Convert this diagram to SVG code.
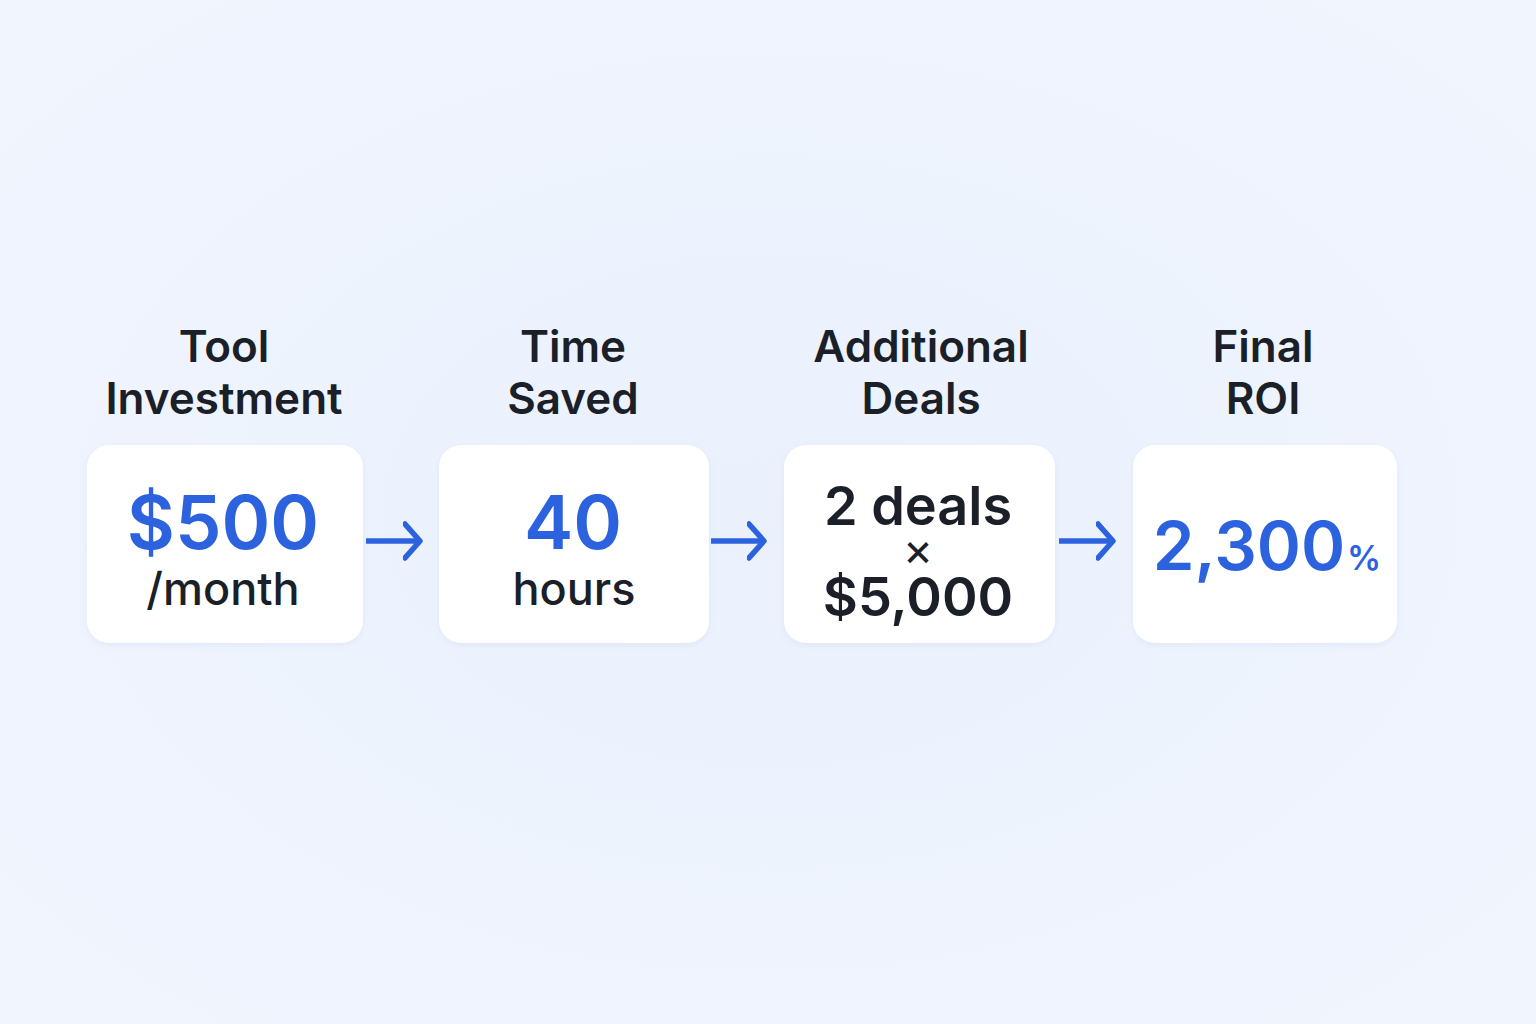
<svg xmlns="http://www.w3.org/2000/svg" width="1536" height="1024" viewBox="0 0 1536 1024">
<defs>
<radialGradient id="bg" cx="0.5" cy="0.5" r="0.7">
<stop offset="0" stop-color="#eaf1fd"/>
<stop offset="1" stop-color="#f1f5fe"/>
</radialGradient>
<filter id="sh" x="-10%" y="-10%" width="120%" height="130%">
<feDropShadow dx="0" dy="2" stdDeviation="3" flood-color="#9fb3d9" flood-opacity="0.18"/>
</filter>
<marker id="ah" viewBox="0 0 20 40" refX="17" refY="20" markerWidth="20" markerHeight="40" markerUnits="userSpaceOnUse" orient="auto">
<path d="M2 3 L17 20 L2 37" fill="none" stroke="#2d62df" stroke-width="5.5" stroke-linecap="round" stroke-linejoin="round"/>
</marker>
</defs>
<style>
.box{fill:#ffffff;filter:url(#sh)}
.title{font-family:Inter,"Liberation Sans",sans-serif;font-weight:600;font-size:44px;fill:#1b1f27;text-anchor:middle}
.big{font-family:Inter,"Liberation Sans",sans-serif;font-weight:600;font-size:74px;fill:#2d62df;text-anchor:middle}
.sub{font-family:Inter,"Liberation Sans",sans-serif;font-weight:500;font-size:45px;fill:#1b1f27;text-anchor:middle}
.dark{font-family:Inter,"Liberation Sans",sans-serif;font-weight:600;font-size:54px;fill:#1b1f27;text-anchor:middle}
.conn{stroke:#2d62df;stroke-width:5.5;fill:none;marker-end:url(#ah)}
</style>
<rect width="1536" height="1024" fill="url(#bg)"/>
<g id="connectors">
<line class="conn" x1="366" y1="541" x2="420" y2="541"/>
<line class="conn" x1="711" y1="541" x2="764" y2="541"/>
<line class="conn" x1="1059" y1="541" x2="1113" y2="541"/>
</g>
<g id="node-tool">
<text class="title" x="224" y="362">Tool</text>
<text class="title" x="224" y="414">Investment</text>
<rect class="box" x="87" y="445" width="276" height="198" rx="22"/>
<text class="big" x="223" y="549">$500</text>
<text class="sub" x="223" y="605">/month</text>
</g>
<g id="node-time">
<text class="title" x="573" y="362">Time</text>
<text class="title" x="573" y="414">Saved</text>
<rect class="box" x="439" y="445" width="270" height="198" rx="22"/>
<text class="big" x="573" y="549">40</text>
<text class="sub" x="574" y="605">hours</text>
</g>
<g id="node-deals">
<text class="title" x="921" y="362">Additional</text>
<text class="title" x="921" y="414">Deals</text>
<rect class="box" x="784" y="445" width="271" height="198" rx="22"/>
<text class="dark" x="918" y="525">2 deals</text>
<text class="dark" x="918" y="566" style="font-size:46px;font-weight:400">×</text>
<text class="dark" x="918" y="616">$5,000</text>
</g>
<g id="node-roi">
<text class="title" x="1263" y="362">Final</text>
<text class="title" x="1263" y="414">ROI</text>
<rect class="box" x="1133" y="445" width="264" height="198" rx="22"/>
<text class="big" x="1249" y="570" style="font-size:67px">2,300</text>
<text class="big" x="1364" y="570" style="font-size:34px">%</text>
</g>
</svg>
